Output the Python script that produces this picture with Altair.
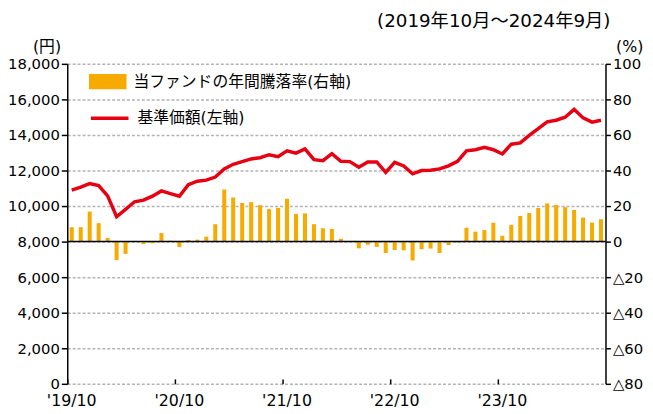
import altair as alt
import pandas as pd

FONT = "DejaVu Sans, Noto Sans CJK JP"
ORANGE = "#F7AB00"
RED = "#E60012"

# categories: monthly, 2019/10 .. 2024/09
months = pd.date_range("2019-10-01", periods=60, freq="MS").strftime("%Y-%m").tolist()
tick_months = ["2019-10", "2020-10", "2021-10", "2022-10", "2023-10"]

# annual return of the fund (%), right axis
returns = [8.1, 8.1, 16.9, 10.4, 2.0, -10.4, -6.9, 0.2, -1.3, -0.9,
           4.8, 0.5, -3.1, 0.9, 1.1, 2.8, 9.8, 29.3, 24.8, 21.7,
           22.2, 20.5, 18.3, 19.0, 24.1, 15.6, 15.9, 9.8, 7.5, 7.1,
           1.6, 0.0, -3.8, -1.8, -3.0, -6.4, -4.7, -4.9, -10.6, -4.3,
           -3.9, -6.4, -1.9, -0.4, 7.8, 5.6, 6.5, 10.6, 3.3, 9.4,
           14.4, 16.1, 18.9, 21.5, 20.6, 19.4, 17.8, 13.5, 10.7, 12.6]

# NAV (yen), left axis
nav = [10900, 11070, 11260, 11150, 10570, 9400, 9815, 10240, 10330, 10555,
       10850, 10700, 10555, 11200, 11400, 11460, 11630, 12090, 12350, 12500,
       12650, 12720, 12890, 12780, 13110, 12980, 13220, 12610, 12555, 12950,
       12520, 12500, 12185, 12480, 12480, 11900, 12460, 12260, 11815, 12000,
       12020, 12090, 12260, 12520, 13110, 13170, 13300, 13170, 12930, 13480,
       13555, 13980, 14350, 14740, 14830, 15000, 15440, 14960, 14720, 14830]

BAR_LABEL = "当ファンドの年間騰落率(右軸)"
LINE_LABEL = "基準価額(左軸)"

df = pd.DataFrame({"month": months, "ret": returns, "nav": nav,
                   "s_bar": BAR_LABEL, "s_line": LINE_LABEL})
zero_df = pd.DataFrame({"ret": [0]})

FS = 16

x = alt.X(
    "month:O", sort=months,
    scale=alt.Scale(type="band", paddingInner=0, paddingOuter=0),
    axis=alt.Axis(values=tick_months, bandPosition=0, labelAngle=0, title=None,
                  labelExpr="\"'\" + substring(datum.value, 2, 4) + '/' + substring(datum.value, 5, 7)",
                  domain=False, grid=False, offset=-5, tickSize=5, tickColor="black",
                  tickWidth=1.5, labelPadding=9, labelFontSize=FS, labelFont=FONT,
                  labelColor="black"),
)

right_axis = alt.Axis(orient="right", values=list(range(-80, 101, 20)),
                      labelExpr="datum.value < 0 ? '△' + abs(datum.value) : datum.value",
                      title="(%)", titleAngle=0, titleAlign="center", titleBaseline="bottom",
                      titleX=24, titleY=-10, titleFontSize=FS, titleFont=FONT,
                      titleFontWeight="normal", titleColor="black",
                      grid=False, domainColor="black", domainWidth=1.5,
                      tickColor="black", tickWidth=1.5, tickSize=5, labelPadding=2,
                      labelFontSize=15, labelFont=FONT, labelColor="black")
right_scale = alt.Scale(domain=[-80, 100], nice=False, zero=False)

bars = alt.Chart(df).mark_bar(width=alt.RelativeBandSize(0.45)).encode(
    x=x,
    y=alt.Y("ret:Q", scale=right_scale, axis=right_axis),
    fill=alt.Fill("s_bar:N", scale=alt.Scale(range=[ORANGE]),
                  legend=alt.Legend(title=None, orient="none", legendX=22, legendY=-1,
                                    symbolType="M-1,-0.4H1V0.4H-1Z", symbolSize=1444,
                                    symbolStrokeWidth=0, symbolOpacity=1,
                                    labelFontSize=16, labelFont=FONT, labelColor="black",
                                    labelLimit=500, labelOffset=7, padding=0)),
)

rule = alt.Chart(zero_df).mark_rule(color="black", strokeWidth=1.5).encode(
    y=alt.Y("ret:Q", scale=right_scale, axis=right_axis)
)

line = alt.Chart(df).mark_line(strokeWidth=3.5).encode(
    x=x,
    y=alt.Y("nav:Q",
            scale=alt.Scale(domain=[0, 18000], nice=False),
            axis=alt.Axis(orient="left", values=list(range(0, 18001, 2000)), format=",d",
                          title="(円)", titleAngle=0, titleAlign="center", titleBaseline="bottom",
                          titleX=-21, titleY=-10, titleFontSize=FS, titleFont=FONT,
                          titleFontWeight="normal", titleColor="black",
                          grid=True, gridDash=[3, 2], gridColor="#b3b3b3", gridWidth=1.5,
                          domainColor="black", domainWidth=1.5,
                          tickColor="black", tickWidth=1.5, tickSize=6, labelPadding=2,
                          labelFontSize=15, labelFont=FONT, labelColor="black")),
    stroke=alt.Stroke("s_line:N", scale=alt.Scale(range=[RED]),
                      legend=alt.Legend(title=None, orient="none", legendX=22, legendY=34,
                                        symbolType="stroke", symbolSize=1444,
                                        symbolStrokeWidth=3.5,
                                        labelFontSize=16, labelFont=FONT, labelColor="black",
                                        labelLimit=500, labelOffset=7, padding=0)),
)

chart = alt.layer(alt.layer(bars, rule), line).resolve_scale(
    y="independent", fill="independent", stroke="independent"
).properties(
    width=545, height=324,
    title=alt.TitleParams(text="(2019年10月～2024年9月)", anchor="end", frame="group",
                          fontSize=18.5, font=FONT, fontWeight="normal", color="black",
                          offset=8, dx=5),
    autosize=alt.AutoSizeParams(type="none"),
    padding={"left": 60, "top": 54, "right": 40, "bottom": 28},
).configure_view(stroke=None)

chart.save("out.html", embed_options={"renderer": "svg", "actions": False})
